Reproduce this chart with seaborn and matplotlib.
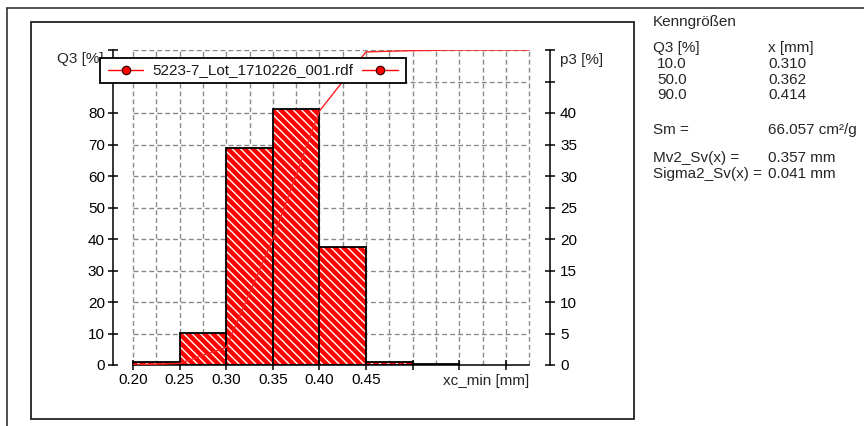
import numpy as np
import matplotlib
matplotlib.use("Agg")
import matplotlib.pyplot as plt
import seaborn as sns
from matplotlib.lines import Line2D
from matplotlib.patches import Rectangle
from matplotlib.transforms import offset_copy
from matplotlib.offsetbox import DrawingArea, TextArea, HPacker, AnchoredOffsetbox

# ---------------- data ----------------
bin_edges = [0.20, 0.25, 0.30, 0.35, 0.40, 0.45, 0.50, 0.55]
p3_values = [0.5, 5.1, 34.4, 40.6, 18.7, 0.5, 0.2]
q3_x = [0.20, 0.25, 0.30, 0.35, 0.40, 0.45, 0.50, 0.55, 0.60, 0.625]
q3_values = [0.0, 0.5, 5.6, 40.0, 80.6, 99.4, 99.8, 100.0, 100.0, 100.0]

x_ticks = [0.20, 0.25, 0.30, 0.35, 0.40, 0.45, 0.50, 0.55, 0.60]
x_ticklabels = ["0.20", "0.25", "0.30", "0.35", "0.40", "0.45", "", "", ""]
q3_ticks = [0, 10, 20, 30, 40, 50, 60, 70, 80, 90, 100]
q3_ticklabels = ["0", "10", "20", "30", "40", "50", "60", "70", "80", "", ""]
p3_ticks = [0, 5, 10, 15, 20, 25, 30, 35, 40, 45, 50]
p3_ticklabels = ["0", "5", "10", "15", "20", "25", "30", "35", "40", "", ""]

series_name = "5223-7_Lot_1710226_001.rdf"
x_label = "xc_min [mm]"
q3_label = "Q3 [%]"
p3_label = "p3 [%]"

panel_title = "Kenngrößen"
panel_q3_header = "Q3 [%]"
panel_x_header = "x [mm]"
panel_q3 = ["10.0", "50.0", "90.0"]
panel_x = ["0.310", "0.362", "0.414"]
panel_names = ["Sm =", "Mv2_Sv(x) =", "Sigma2_Sv(x) ="]
panel_vals = ["66.057 cm²/g", "0.357 mm", "0.041 mm"]

# ---------------- style ----------------
sns.set_style("white")
plt.rcParams["font.family"] = ["Liberation Sans", "DejaVu Sans"]
plt.rcParams["font.size"] = 11
plt.rcParams["hatch.color"] = "white"
plt.rcParams["hatch.linewidth"] = 1.0

W, H = 864, 426
fig = plt.figure(figsize=(W / 100, H / 100), dpi=100)
fig.patch.set_facecolor("white")

def fx(x):
    return x / W

def fy(y):
    return 1 - y / H

# axes geometry (pixels)
L, R, T, B = 113, 550, 50, 365
ax = fig.add_axes([fx(L), fy(B), (R - L) / W, (B - T) / H])
ax.set_facecolor("none")
ax2 = ax.twinx()

ppu = 932.0
xlim = (0.20 - (133 - L) / ppu, 0.20 + (R - 133) / ppu)

# grid (on host axes, p3 scale: 5 p3 == 10 Q3)
grid_x = np.arange(0.20, 0.6251, 0.025)
grid_y = np.arange(5, 50.1, 5)
ax.vlines(grid_x, 0, 50, colors="#8a8a8a", linestyles=(0, (3.5, 2.2)), linewidth=1.0, zorder=0.5)
ax.hlines(grid_y, 0.20, 0.625, colors="#8a8a8a", linestyles=(0, (3.5, 2.2)), linewidth=1.0, zorder=0.5)

# bars (p3) — hatched fill then black outline
centers = [(a + b) / 2 for a, b in zip(bin_edges[:-1], bin_edges[1:])]
sns.histplot(x=centers, weights=p3_values, bins=bin_edges, ax=ax, color="#ff0000",
             alpha=1, edgecolor="white", linewidth=0, hatch="\\\\\\\\", zorder=1)
sns.histplot(x=centers, weights=p3_values, bins=bin_edges, ax=ax, fill=False,
             color="black", linewidth=1.3, zorder=2)

# cumulative Q3 line
sns.lineplot(x=q3_x, y=q3_values, ax=ax2, color="#ff2020", linewidth=1.0, zorder=3)

# host axes (x, p3 on right)
ax.set_xlim(*xlim)
ax.set_ylim(0, 50)
ax.yaxis.tick_right()
ax.set_xticks(x_ticks)
ax.set_xticklabels(x_ticklabels)
ax.set_yticks(p3_ticks)
ax.set_yticklabels(p3_ticklabels)
ax.set_xlabel("")
ax.set_ylabel("")
for s in ["top", "left"]:
    ax.spines[s].set_visible(False)
ax.spines["bottom"].set_bounds(0.20, 0.625)
for s in ["bottom", "right"]:
    ax.spines[s].set_linewidth(1.1)
    ax.spines[s].set_color("black")
ax.tick_params(axis="x", direction="inout", length=7.2, width=1.1, pad=2.4, labelsize=11,
               colors="black", bottom=True)
ax.tick_params(axis="y", direction="inout", length=7.2, width=1.1, pad=3.6, labelsize=11,
               colors="black", right=True, left=False, labelright=True, labelleft=False)

# twin axes (Q3 on left)
ax2.set_ylim(0, 100)
ax2.yaxis.tick_left()
ax2.set_yticks(q3_ticks)
ax2.set_yticklabels(q3_ticklabels)
ax2.set_ylabel("")
ax2.set_xlabel("")
for s in ["top", "right", "bottom"]:
    ax2.spines[s].set_visible(False)
ax2.spines["left"].set_visible(True)
ax2.spines["left"].set_linewidth(1.1)
ax2.spines["left"].set_color("black")
ax2.tick_params(axis="y", direction="inout", length=7.2, width=1.1, pad=2.2, labelsize=11,
                colors="black", left=True, right=False, labelleft=True, labelright=False)
ax2.set_xlim(*xlim)

# axis texts
ax.text(0.625, 0, x_label, ha="right", va="top", fontsize=11,
        transform=offset_copy(ax.get_xaxis_transform(), fig=fig, x=0, y=-9.5, units="dots"))
fig.text(fx(104), fy(59), q3_label, ha="right", va="center", fontsize=11, zorder=3)
fig.text(fx(560), fy(60), p3_label, ha="left", va="center", fontsize=11, zorder=3)

# legend box with marker line on both sides
k = 0.72  # px -> pt
def handle(width_px, line_from_px, line_to_px, marker_px):
    da = DrawingArea(width_px * k, 12, 0, 0)
    da.add_artist(Line2D([line_from_px * k, line_to_px * k], [6, 6], color="#ff0000", lw=1.0))
    da.add_artist(Line2D([marker_px * k], [6], marker="o", ms=6.0, mfc="#ff0000",
                         mec="#3a0000", mew=0.9, lw=0))
    return da

h_left = handle(39.4, 4.4, 39.4, 22.4)
txt = TextArea(series_name, textprops=dict(fontsize=11, color="#1a1a1a"))
h_right = handle(40.4, 0, 36, 18)
pack = HPacker(children=[h_left, txt, h_right], align="center", pad=0, sep=8.6 * k)
leg = AnchoredOffsetbox(loc="upper left", child=pack, pad=4.0 * k / 11, borderpad=0,
                        frameon=True, bbox_to_anchor=(fx(100), fy(58)),
                        bbox_transform=fig.transFigure, prop=dict(size=11))
leg.patch.set_edgecolor("black")
leg.patch.set_linewidth(1.3)
leg.patch.set_facecolor("white")
leg.set_zorder(6)
fig.add_artist(leg)

# frames
fig.add_artist(Line2D([fx(7), fx(W)], [fy(8), fy(8)], color="#222222", lw=1.1, zorder=1))
fig.add_artist(Line2D([fx(7), fx(7)], [fy(8), fy(H)], color="#222222", lw=1.1, zorder=1))
fig.add_artist(Rectangle((fx(31), fy(419)), (634 - 31) / W, (419 - 22) / H, fill=False,
                         edgecolor="#222222", lw=1.3, transform=fig.transFigure, zorder=1))

# characteristic values panel
fig.text(fx(653), fy(22), panel_title, ha="left", va="center", fontsize=11)
fig.text(fx(653), fy(48), panel_q3_header, ha="left", va="center", fontsize=11)
fig.text(fx(768), fy(48), panel_x_header, ha="left", va="center", fontsize=11)
for i, (qv, xv) in enumerate(zip(panel_q3, panel_x)):
    yy = 64 + 15.5 * i
    fig.text(fx(657), fy(yy), qv, ha="left", va="center", fontsize=11)
    fig.text(fx(768), fy(yy), xv, ha="left", va="center", fontsize=11)
for (nm, vv), yy in zip(zip(panel_names, panel_vals), [130, 158, 174]):
    fig.text(fx(653), fy(yy), nm, ha="left", va="center", fontsize=11)
    fig.text(fx(768), fy(yy), vv, ha="left", va="center", fontsize=11)

fig.savefig("out.png", dpi=100, facecolor="white")
